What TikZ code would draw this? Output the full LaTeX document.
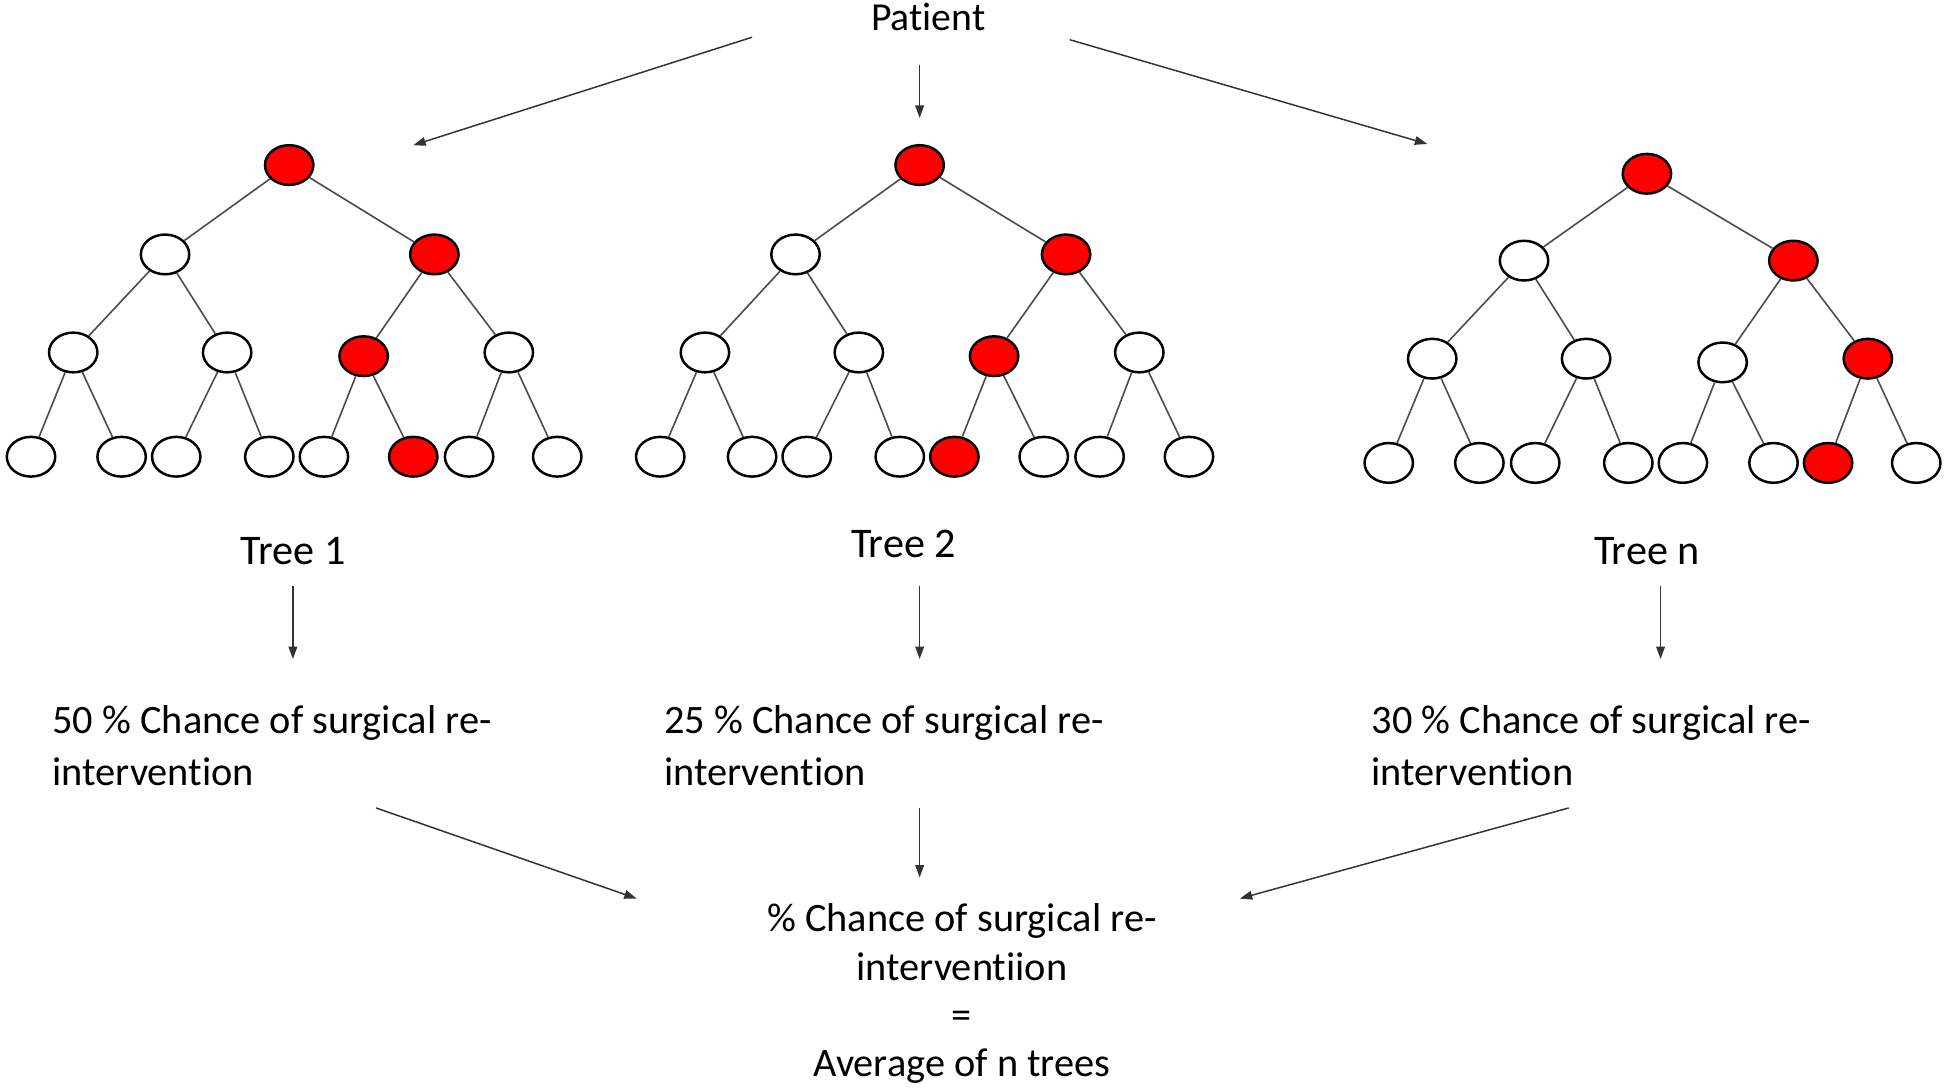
\documentclass[tikz,border=0pt]{standalone}
\usepackage{fontspec}
\setmainfont{Carlito}[Ligatures=NoCommon]
\usetikzlibrary{arrows.meta,shapes.geometric}
\begin{document}
\begin{tikzpicture}[x=1pt,y=-1pt,
  wnode/.style={ellipse,draw=black,line width=2pt,fill=white,minimum width=39pt,minimum height=32pt,inner sep=0pt},
  rnode/.style={wnode,fill=red},
  edge/.style={draw=black!70,line width=1.3pt},
  arr/.style={draw=black!80,line width=1.2pt,-{Triangle[length=10pt,width=7pt]}},
  lbl/.style={font=\fontsize{32}{42}\selectfont,inner sep=0pt},
  tlbl/.style={font=\fontsize{34}{40}\selectfont,inner sep=0pt},
  pct/.style={font=\fontsize{32.5}{42}\selectfont,inner sep=0pt,align=left,anchor=north west},
  res/.style={font=\fontsize{32.5}{39}\selectfont,inner sep=0pt,align=center,anchor=north}]
\useasboundingbox (0,0) rectangle (1568,876);
% Trees
\foreach \n/\x/\y/\s in {1/233/133/rnode,2/133/205/wnode,3/350/205/rnode,4/59/284/wnode,5/183/284/wnode,6/293/287/rnode,7/410/284/wnode,8/25/368/wnode,9/98/368/wnode,10/142/368/wnode,11/217/368/wnode,12/261/368/wnode,13/333/368/rnode,14/378/368/wnode,15/449/368/wnode}
  \node[\s] (a\n) at (\x,\y) {};
\foreach \n/\x/\y/\s in {1/741/133/rnode,2/641/205/wnode,3/859/205/rnode,4/568/284/wnode,5/692/284/wnode,6/801/287/rnode,7/918/284/wnode,8/532/368/wnode,9/606/368/wnode,10/650/368/wnode,11/725/368/wnode,12/769/368/rnode,13/841/368/wnode,14/886/368/wnode,15/958/368/wnode}
  \node[\s] (b\n) at (\x,\y) {};
\foreach \n/\x/\y/\s in {1/1327/140/rnode,2/1228/210/wnode,3/1445/210/rnode,4/1154/289/wnode,5/1278/289/wnode,6/1388/292/wnode,7/1505/289/rnode,8/1119/373/wnode,9/1192/373/wnode,10/1237/373/wnode,11/1312/373/wnode,12/1356/373/wnode,13/1429/373/wnode,14/1473/373/rnode,15/1544/373/wnode}
  \node[\s] (c\n) at (\x,\y) {};
\foreach \t in {a,b,c}
  \foreach \p/\c in {1/2,1/3,2/4,2/5,3/6,3/7,4/8,4/9,5/10,5/11,6/12,6/13,7/14,7/15}
    \draw[edge] (\t\p) -- (\t\c);
% Labels
\node[lbl] (patient) at (748,14) {Patient};
\node[tlbl] (t1) at (236,444) {Tree 1};
\node[tlbl] (t2) at (728,438) {Tree 2};
\node[tlbl] (tn) at (1327,444) {Tree n};
\node[pct] (p1) at (42,568) {50 \% Chance of surgical re-\\intervention};
\node[pct] (p2) at (535,568) {25 \% Chance of surgical re-\\intervention};
\node[pct] (pn) at (1105,568) {30 \% Chance of surgical re-\\intervention};
\node[res] (avg) at (775,728) {\% Chance of surgical re-\\interventiion\\=\\Average of n trees};
% Arrow end points
\coordinate (s1) at (606,30);  \coordinate (e1) at (333,117);
\coordinate (s2) at (741,52);  \coordinate (e2) at (741,95);
\coordinate (s3) at (862,32);  \coordinate (e3) at (1150,116);
\coordinate (s4) at (236,472); \coordinate (e4) at (236,531);
\coordinate (s5) at (741,472); \coordinate (e5) at (741,531);
\coordinate (s6) at (1338,472);\coordinate (e6) at (1338,531);
\coordinate (s7) at (303,651); \coordinate (e7) at (513,724);
\coordinate (s8) at (741,651); \coordinate (e8) at (741,707);
\coordinate (s9) at (1264,651);\coordinate (e9) at (999,724);
\foreach \i in {1,...,9}
  \draw[arr] (s\i) -- (e\i);
\end{tikzpicture}
\end{document}
